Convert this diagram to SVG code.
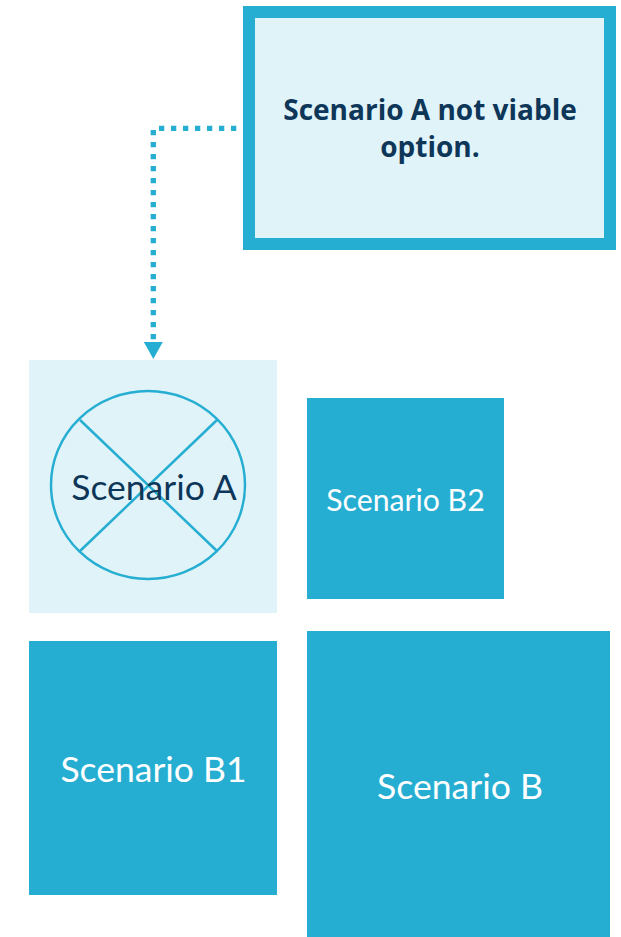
<svg xmlns="http://www.w3.org/2000/svg" width="621" height="937" viewBox="0 0 621 937">
<style>
.box{fill:#26aed2}
.light{fill:#e0f3f9}
.lbl{font-family:Lato,"Open Sans",sans-serif;font-weight:normal;fill:#ffffff;text-anchor:middle}
.title{font-family:"Open Sans",Lato,sans-serif;font-weight:bold;font-size:28px;fill:#0d3658;text-anchor:middle}
.dot{fill:none;stroke:#26aed2;stroke-width:5.3;stroke-dasharray:5.3 6.7}
.xl{fill:none;stroke:#26aed2;stroke-width:2.5}
</style>
<defs>
<marker id="arr" viewBox="0 0 17 19" refX="0" refY="9.5" markerWidth="17" markerHeight="19" markerUnits="userSpaceOnUse" orient="auto">
<path d="M0,0 L17,9.5 L0,19 Z" fill="#26aed2"/>
</marker>
</defs>
<g id="note">
<rect x="249" y="12" width="361" height="232" fill="#e0f3f9" stroke="#26aed2" stroke-width="12"/>
<text class="title" x="430" y="120">Scenario A not viable</text>
<text class="title" x="430" y="157">option.</text>
</g>
<g id="connectors">
<path class="dot" d="M159,128.3 H237"/>
<path class="dot" d="M153.3,130 V342" marker-end="url(#arr)"/>
</g>
<g id="scenarioA">
<rect class="light" x="29" y="360" width="248" height="253"/>
<ellipse class="xl" cx="148" cy="485" rx="97" ry="94"/>
<line class="xl" x1="80" y1="420" x2="217" y2="551"/>
<line class="xl" x1="217" y1="420" x2="80" y2="551"/>
<text class="lbl" x="154" y="500" font-size="35.5" style="fill:#0d3658">Scenario A</text>
</g>
<g id="scenarioB2">
<rect class="box" x="307" y="398" width="197" height="201"/>
<text class="lbl" x="405.5" y="511" font-size="30.2">Scenario B2</text>
</g>
<g id="scenarioB1">
<rect class="box" x="29" y="641" width="248" height="254"/>
<text class="lbl" x="153.5" y="782" font-size="35.5">Scenario B1</text>
</g>
<g id="scenarioB">
<rect class="box" x="307" y="631" width="303" height="306"/>
<text class="lbl" x="460" y="799" font-size="35.6">Scenario B</text>
</g>
</svg>
